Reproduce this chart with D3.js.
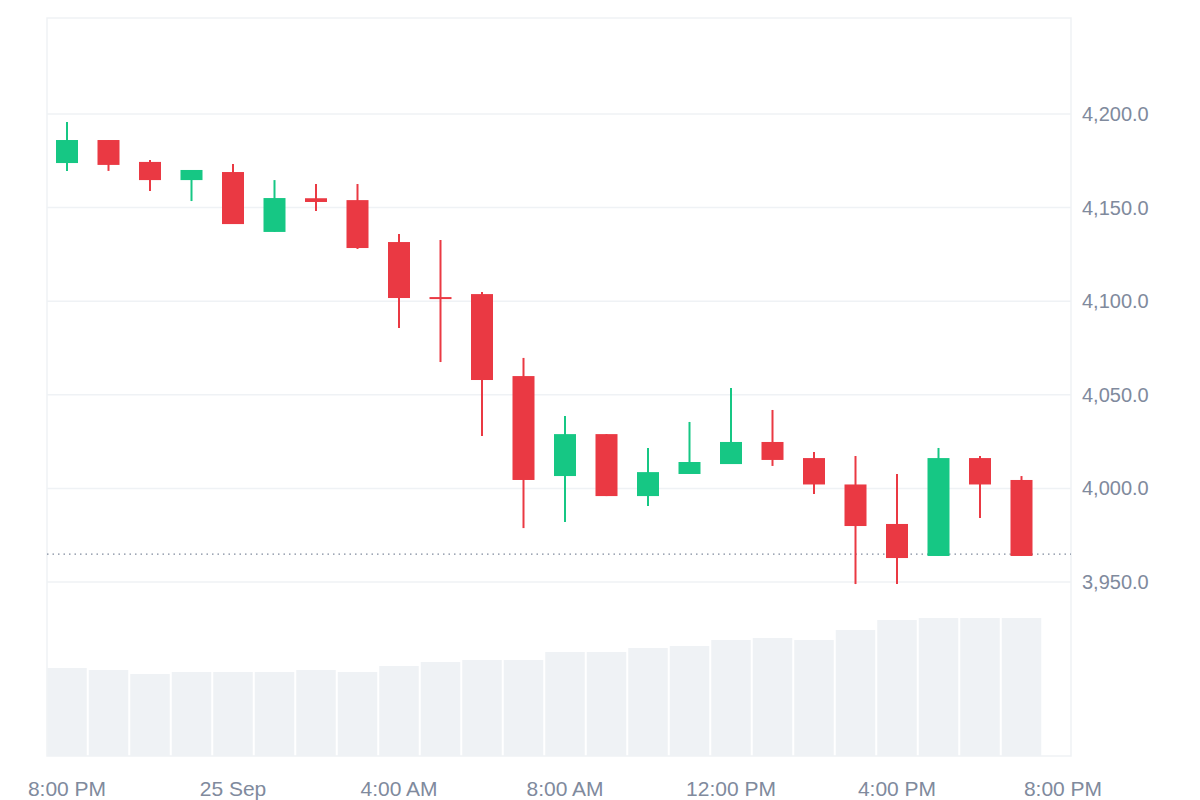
<!DOCTYPE html>
<html><head><meta charset="utf-8">
<script src="https://cdn.jsdelivr.net/npm/d3@7"></script>
<style>body{margin:0;background:#fff}</style></head>
<body><svg id="c" width="1200" height="800"></svg>
<script>
const hours = d3.range(24);
const open  = [4173.8,4186.1,4174.4,4164.7,4169.0,4137.0,4155.0,4154.0,4131.6,4102.2,4103.8,4060.0,4006.6,4029.0,3995.9,4007.7,4013.0,4024.8,4016.2,4002.1,3981.0,3963.9,4016.2,4004.5];
const close = [4186.1,4172.8,4164.7,4170.1,4141.2,4155.1,4153.0,4128.4,4101.7,4101.7,4057.9,4004.5,4029.0,3995.9,4008.7,4014.1,4024.8,4015.2,4002.1,3979.9,3962.8,4016.2,4002.1,3963.9];
const high  = [4195.7,4186.1,4175.4,4170.1,4173.3,4164.7,4162.6,4162.6,4135.9,4132.7,4104.9,4069.7,4038.7,4029.0,4021.6,4035.5,4053.6,4041.9,4019.4,4017.3,4007.7,4021.6,4017.3,4006.6];
const low   = [4169.6,4169.6,4158.9,4153.5,4141.2,4137.0,4148.2,4127.9,4085.7,4067.5,4028.0,3978.8,3982.0,3995.9,3990.6,4007.7,4013.0,4012.0,3997.0,3948.9,3948.9,3963.9,3984.2,3963.9];
const volume = [88,86,82,84,84,84,86,84,90,94,96,96,104,104,108,110,116,118,116,126,136,138,138,138];
const lastPrice = 3964.9;
const priceTicks = [3950,4000,4050,4100,4150,4200];
const timeTicks = [0,4,8,12,16,20,24];
const timeLabels = ["8:00 PM","25 Sep","4:00 AM","8:00 AM","12:00 PM","4:00 PM","8:00 PM"];

const svg = d3.select("#c");
const L=47,R=1071,T=18,B=756;
const x = d3.scaleLinear().domain([0,24]).range([67,1063]);
const y = d3.scaleLinear().domain([3950,4200]).range([582,114]);
const yv = d3.scaleLinear().domain([0,138]).range([B,618]);
const green="#16c784", red="#ea3943", grey="#808a9d";
const font="'Liberation Sans', Arial, sans-serif";

svg.append("g").selectAll("line").data(priceTicks).join("line")
 .attr("x1",L).attr("x2",R).attr("y1",d=>y(d)).attr("y2",d=>y(d)).attr("stroke","#eff2f5").attr("stroke-width",1.5);
svg.append("rect").attr("x",L).attr("y",T).attr("width",R-L).attr("height",B-T).attr("fill","none").attr("stroke","#eff2f5").attr("stroke-width",1.5);

const bw=41.5;
svg.append("g").selectAll("rect").data(hours).join("rect")
 .attr("x",i=>x(i)-bw/2+1).attr("width",bw-2).attr("y",i=>yv(volume[i])).attr("height",i=>B-yv(volume[i]))
 .attr("fill","#eff2f5");

svg.append("line").attr("x1",L).attr("x2",R).attr("y1",y(lastPrice)).attr("y2",y(lastPrice))
 .attr("stroke","#808a9d").attr("stroke-dasharray","1.5,4").attr("stroke-width",1.3);

const g=svg.append("g");
hours.forEach(i=>{
  const col = close[i]>open[i]?green:red;
  g.append("line").attr("x1",x(i)).attr("x2",x(i)).attr("y1",y(high[i])).attr("y2",y(low[i])).attr("stroke",col).attr("stroke-width",2);
  const top=y(Math.max(open[i],close[i])), bot=y(Math.min(open[i],close[i]));
  g.append("rect").attr("x",x(i)-11).attr("width",22).attr("y",top).attr("height",Math.max(2,bot-top)).attr("fill",col);
});

svg.append("g").selectAll("text").data(priceTicks).join("text")
 .attr("x",1082).attr("y",d=>y(d)+7).text(d=>d3.format(",.1f")(d))
 .attr("fill",grey).attr("font-family",font).attr("font-size",20);
svg.append("g").selectAll("text").data(timeTicks).join("text")
 .attr("x",d=>x(d)).attr("y",796).attr("text-anchor","middle").text((d,i)=>timeLabels[i])
 .attr("fill",grey).attr("font-family",font).attr("font-size",21);
</script></body></html>
